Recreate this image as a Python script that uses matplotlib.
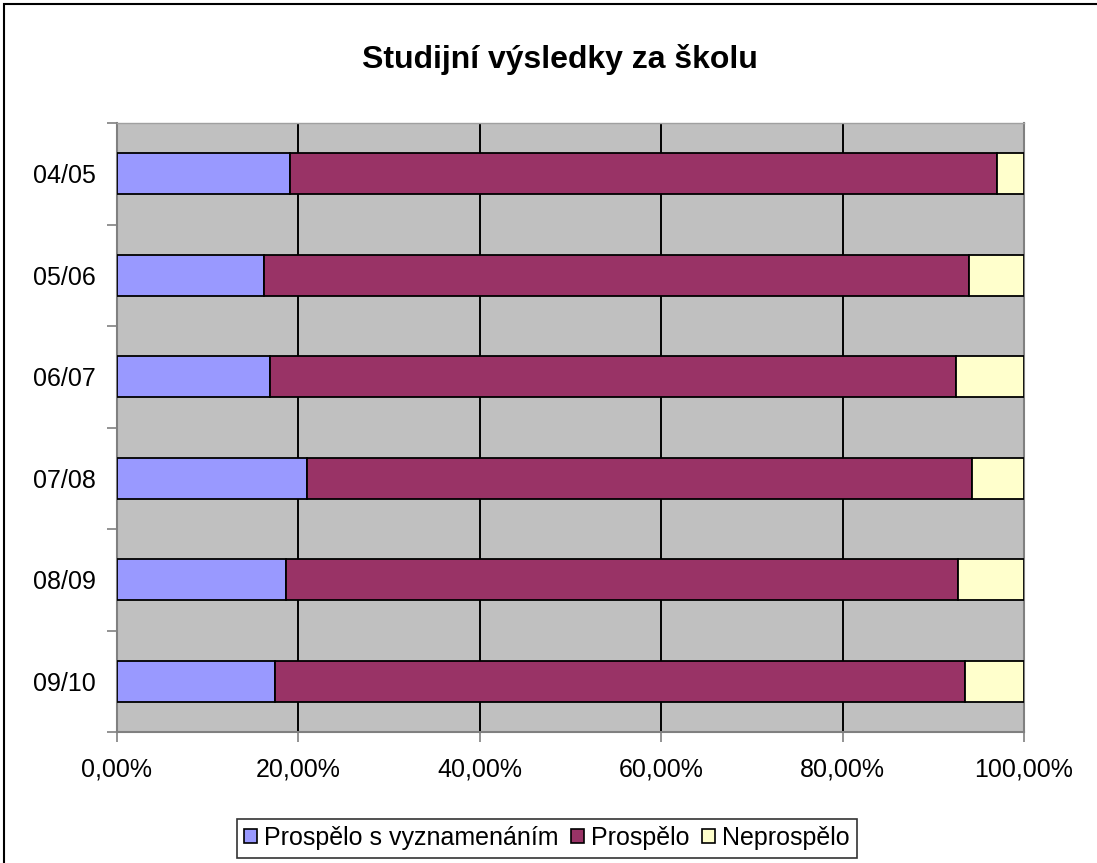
import matplotlib
matplotlib.use("Agg")
import matplotlib.pyplot as plt
from matplotlib.patches import Rectangle, Patch
from matplotlib.ticker import FuncFormatter, FixedLocator

plt.rcParams['font.family'] = ['Liberation Sans', 'DejaVu Sans']

# Data (share of pupils, %)
years = ['04/05', '05/06', '06/07', '07/08', '08/09', '09/10']
vyznamenani = [19.1, 16.2, 16.9, 20.9, 18.6, 17.4]
prospelo = [77.9, 77.7, 75.6, 73.4, 74.1, 76.1]
neprospelo = [3.0, 6.1, 7.5, 5.7, 7.3, 6.5]

series_names = ['Prospělo s vyznamenáním', 'Prospělo', 'Neprospělo']
colors = ['#9999FF', '#993366', '#FFFFCC']

W, H = 1097, 863
fig = plt.figure(figsize=(W / 100, H / 100), dpi=100)
fig.patch.set_facecolor('white')

# outer chart border (cut off at right/bottom like the original)
fig.patches.append(Rectangle((4 / W, -0.1), 1.2, 1.1 - 4 / H, transform=fig.transFigure,
                             fill=False, edgecolor='black', linewidth=1.5))

left, right, top, bottom = 117, 1024, 123, 732
ax = fig.add_axes([left / W, 1 - bottom / H, (right - left) / W, (bottom - top) / H])
ax.set_facecolor('#C0C0C0')

ypos = list(range(len(years)))
starts = [0] * len(years)
for vals, name, col in zip([vyznamenani, prospelo, neprospelo], series_names, colors):
    ax.barh(ypos, vals, left=starts, height=0.4, color=col, edgecolor='black',
            linewidth=1.3, label=name, zorder=3)
    starts = [s + v for s, v in zip(starts, vals)]

ax.set_xlim(0, 100)
ax.set_ylim(len(years) - 0.5, -0.5)

ax.set_xticks([0, 20, 40, 60, 80, 100])
ax.xaxis.set_major_formatter(FuncFormatter(lambda v, p: f"{v:.2f}%".replace('.', ',')))
ax.grid(axis='x', color='black', linewidth=1.4, zorder=1)
ax.set_axisbelow(True)

ax.set_yticks(ypos)
ax.set_yticklabels(years)
ax.yaxis.set_minor_locator(FixedLocator([i - 0.5 for i in range(len(years) + 1)]))
ax.tick_params(axis='y', which='major', length=0, pad=15, labelsize=18)
ax.tick_params(axis='y', which='minor', length=7, width=1.2, color='#808080', direction='out')
ax.tick_params(axis='x', which='major', length=7, width=1.2, color='#808080',
               direction='out', pad=11, labelsize=18)

for side in ['left', 'bottom', 'right']:
    ax.spines[side].set_color('#808080')
    ax.spines[side].set_linewidth(1.5)
ax.spines['top'].set_color('#A0A0A0')
ax.spines['top'].set_linewidth(1.0)

fig.text(560 / W, 1 - 59 / H, 'Studijní výsledky za školu', ha='center', va='center',
         fontsize=23, fontweight='bold')

handles = [Patch(facecolor=c, edgecolor='black', linewidth=1.2) for c in colors]
leg = fig.legend(handles, series_names, loc='center', bbox_to_anchor=(547 / W, 1 - 838 / H),
                 ncol=3, fontsize=18, frameon=True, fancybox=False, edgecolor='black',
                 handlelength=0.5, handleheight=0.5, handletextpad=0.3, columnspacing=0.5,
                 borderpad=0.3, borderaxespad=0)
leg.get_frame().set_linewidth(1.2)

fig.savefig('out.png', dpi=100)
